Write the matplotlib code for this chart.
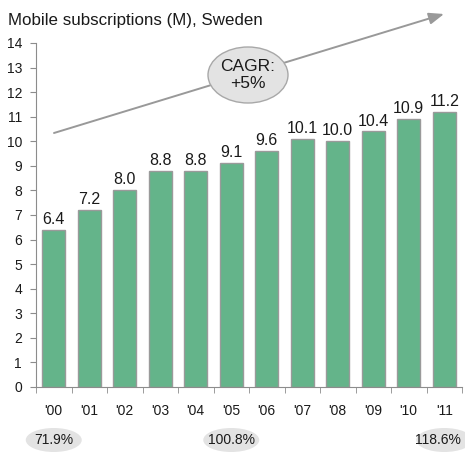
import matplotlib
matplotlib.use("Agg")
import matplotlib.pyplot as plt
from matplotlib.patches import Ellipse
import numpy as np

years = ["'00", "'01", "'02", "'03", "'04", "'05", "'06", "'07", "'08", "'09", "'10", "'11"]
subs = [6.4, 7.2, 8.0, 8.8, 8.8, 9.1, 9.6, 10.1, 10.0, 10.4, 10.9, 11.2]
pen_years = ["'00", "'05", "'11"]
penetration = ["71.9%", "100.8%", "118.6%"]

BAR = "#64b48a"
EDGE = "#9a9a9a"
AXIS = "#8c8c8c"
INK = "#1a1a1a"

plt.rcParams["font.family"] = ["Liberation Sans", "DejaVu Sans"]

W, H = 465, 453
fig = plt.figure(figsize=(W / 100, H / 100), dpi=100)
ax = fig.add_axes([36 / W, 66 / H, 426 / W, 344 / H])

x = np.arange(len(years))
ax.bar(x, subs, width=0.65, color=BAR, edgecolor=EDGE, linewidth=1.0, zorder=2)
for xi, v in zip(x, subs):
    ax.text(xi, v + 0.12, f"{v:.1f}", ha="center", va="bottom", fontsize=11.5, color=INK)

ax.set_xlim(-0.5, len(years) - 0.5)
ax.set_ylim(0, 14)
ax.set_yticks(range(0, 15))
ax.tick_params(axis="y", labelsize=10, colors=AXIS, labelcolor=INK, length=4, pad=6)
ax.set_xticks(x)
ax.set_xticklabels(years)
ax.tick_params(axis="x", length=0, labelsize=10, labelcolor=INK, pad=12)
ax.set_xticks(np.arange(-0.5, len(years), 1.0), minor=True)
ax.tick_params(axis="x", which="minor", length=4, color=AXIS)
for s in ("top", "right"):
    ax.spines[s].set_visible(False)
for s in ("left", "bottom"):
    ax.spines[s].set_color(AXIS)

# penetration ellipses under selected years
for yr, txt in zip(pen_years, penetration):
    xi = years.index(yr)
    xf = ax.transData.transform((xi, 0))[0] / W
    yf = 1 - 440 / H
    fig.add_artist(Ellipse((xf, yf), 56 / W, 24 / H, transform=fig.transFigure,
                           facecolor="#e3e3e3", edgecolor="none"))
    fig.text(min(xf, (W - 27) / W), yf, txt, ha="center", va="center",
             fontsize=10, color=INK)

# CAGR arrow and bubble
ax.annotate("", xy=(444 / W, 1 - 14 / H), xytext=(54 / W, 1 - 133 / H),
            xycoords="figure fraction", textcoords="figure fraction",
            arrowprops=dict(arrowstyle="-|>,head_length=0.9,head_width=0.35",
                            color="#999999", linewidth=1.4, shrinkA=0, shrinkB=0),
            annotation_clip=False, zorder=4)
fig.add_artist(Ellipse((248 / W, 1 - 75 / H), 80 / W, 56 / H, transform=fig.transFigure,
                       facecolor="#e3e3e3", edgecolor="#a8a8a8", linewidth=1.0, zorder=5))
fig.text(248 / W, 1 - 75 / H, "CAGR:\n+5%", ha="center", va="center", fontsize=12.5,
         color=INK, linespacing=1.15, zorder=6)

fig.text(8 / W, 1 - 20 / H, "Mobile subscriptions (M), Sweden", ha="left", va="center",
         fontsize=12.2, color=INK)

fig.savefig("out.png", dpi=100, facecolor="white")
